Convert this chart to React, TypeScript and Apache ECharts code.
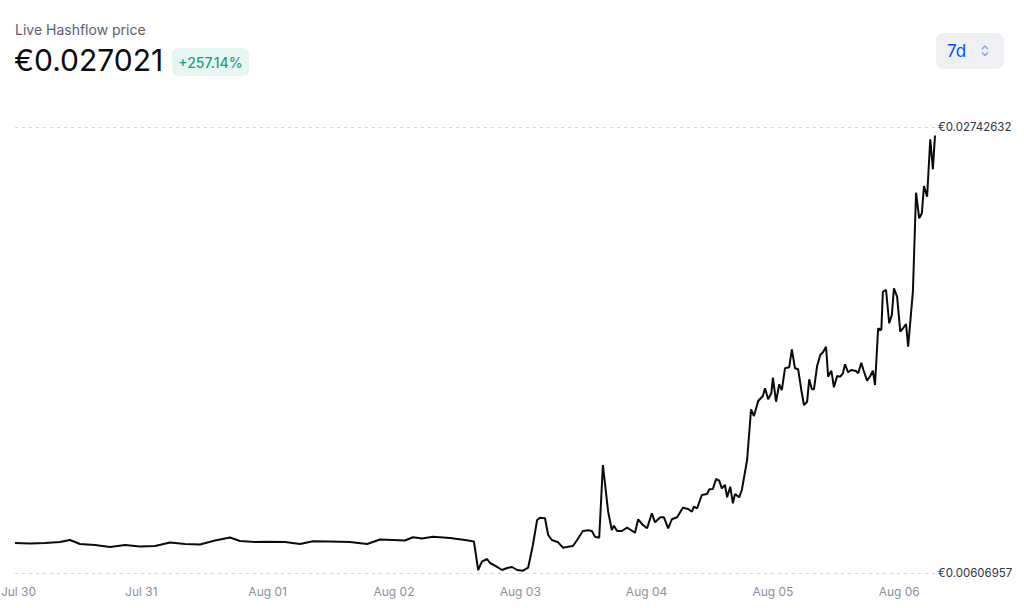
import React, { useEffect, useRef } from "react";
import * as echarts from "echarts";

// hours since Jul 30 00:00
const hours = [
  0, 2.85, 5.7, 8.55, 10.45, 12.35, 15.2, 18.05, 20.9, 23.75,
  26.6, 29.45, 32.3, 35.15, 38.0, 40.85, 42.75, 45.6, 47.9, 51.3,
  54.15, 56.6, 59.85, 63.65, 66.9, 69.35, 71.8, 74.1, 75.6, 77.35,
  79.4, 82.65, 85.5, 87.2, 88.0, 88.7, 89.7, 90.25, 91.2, 92.55,
  93.5, 94.45, 95.4, 96.5, 97.5, 98.4, 99.2, 99.75, 100.7, 101.3,
  102.0, 103.2, 104.1, 105.1, 106.0, 106.8, 107.9, 108.9, 109.6, 110.2,
  111.0, 111.7, 112.7, 113.4, 113.8, 114.4, 115.3, 116.3, 116.85, 117.8,
  118.4, 119.3, 120.1, 121.0, 121.6, 122.6, 123.3, 124.1, 124.8, 125.8,
  126.9, 127.9, 128.6, 129.0, 129.6, 130.5, 131.5, 131.9, 132.6, 133.2,
  133.8, 134.3, 134.9, 135.3, 135.9, 136.4, 136.8, 137.6, 138.1, 139.1,
  139.85, 140.4, 141.2, 142.1, 142.5, 143.1, 143.7, 144.0, 144.6, 145.2,
  145.7, 146.3, 147.1, 147.6, 148.2, 148.8, 149.4, 149.9, 150.5, 150.9,
  151.4, 151.8, 152.4, 153.0, 153.5, 154.1, 154.5, 155.1, 155.6, 156.2,
  156.8, 157.3, 157.7, 158.3, 158.9, 159.8, 160.2, 160.8, 161.2, 161.9,
  162.5, 163.0, 163.4, 164.0, 164.6, 164.9, 165.5, 166.1, 166.6, 167.0,
  167.6, 168.2, 168.7, 169.3, 169.7, 170.6, 171.2, 171.8, 172.3, 172.7,
  173.3, 173.9, 174.4, 174.8,
];

// EUR price
const prices = [
  0.0075061, 0.0074822, 0.0075061, 0.007554, 0.0076498, 0.0074583, 0.0074104, 0.0073146, 0.0074104, 0.0073385,
  0.0073625, 0.0075301, 0.0074583, 0.0074343, 0.0076259, 0.0077695, 0.0076019, 0.007554, 0.0075684, 0.007554,
  0.0074583, 0.0075876, 0.007578, 0.007554, 0.0074583, 0.0076737, 0.0076498, 0.0076259, 0.0077791, 0.0077216,
  0.0078078, 0.0077456, 0.0076498, 0.007578, 0.0062133, 0.0066107, 0.00674, 0.0065485, 0.0064192, 0.0062133,
  0.006309, 0.0063569, 0.0062133, 0.0061797, 0.0063234, 0.0074104, 0.0086075, 0.0087176, 0.0086889, 0.0078892,
  0.0076498, 0.0075397, 0.0072811, 0.007329, 0.0073625, 0.0076498, 0.0080808, 0.0081143, 0.0080808, 0.0078078,
  0.0077599, 0.0112412, 0.009005, 0.0081287, 0.0083346, 0.0080808, 0.0080808, 0.0082388, 0.0081526, 0.0079994,
  0.008641, 0.0083681, 0.0082101, 0.0089283, 0.0084974, 0.0087368, 0.0087368, 0.0082101, 0.008641, 0.0087368,
  0.0091965, 0.0091342, 0.009005, 0.0092444, 0.0091678, 0.0098046, 0.0098525, 0.0100776, 0.0100919, 0.0105708,
  0.0104894, 0.0101255, 0.0102835, 0.0096945, 0.0102021, 0.0094072, 0.0098525, 0.0096945, 0.0100441, 0.0114806,
  0.0139084, 0.0135875, 0.0143058, 0.0145452, 0.014914, 0.0143872, 0.0146745, 0.0154216, 0.0142723, 0.0151055,
  0.0148326, 0.0158717, 0.0159195, 0.0167815, 0.0158717, 0.0158238, 0.0148326, 0.0141143, 0.0142723, 0.0153449,
  0.0148661, 0.0148661, 0.0159818, 0.0165085, 0.0166376, 0.016906, 0.0154694, 0.0157567, 0.0149619, 0.0155029,
  0.0154694, 0.0156322, 0.0160632, 0.0156801, 0.0157903, 0.0157424, 0.0156322, 0.0161398, 0.0157903, 0.0152779,
  0.0155029, 0.0157567, 0.015072, 0.0177871, 0.0177057, 0.0195397, 0.0196211, 0.0180265, 0.0184239, 0.0197025,
  0.0193002, 0.0176243, 0.0177871, 0.017993, 0.016906, 0.0195397, 0.0242803, 0.0230544, 0.0232938, 0.0246011,
  0.0240887, 0.0268373, 0.0254008, 0.027021,
];

const dayLabels = ["Jul 30", "Jul 31", "Aug 01", "Aug 02", "Aug 03", "Aug 04", "Aug 05", "Aug 06"];
const yMin = 0.00606957;
const yMax = 0.02742632;
const yTickLabels = ["€0.00606957", "€0.02742632"];

const title = "Live Hashflow price";
const currentPrice = "€0.027021";
const changeText = "+257.14%";
const rangeText = "7d";

const FONT = "Inter, 'Noto Sans', sans-serif";

export default function App() {
  const ref = useRef<HTMLDivElement>(null);

  useEffect(() => {
    if (!ref.current) return;
    const chart = echarts.init(ref.current, undefined, { renderer: "svg" });
    const data = hours.map((h, i) => [h, prices[i]]);

    chart.setOption({
      animation: false,
      backgroundColor: "#ffffff",
      textStyle: { fontFamily: FONT },
      grid: {
        left: 15,
        right: 89,
        top: 127,
        bottom: 35,
        containLabel: false,
        outerBoundsMode: "none",
      },
      xAxis: {
        type: "value",
        min: 0,
        max: "dataMax",
        interval: 24,
        axisLine: { show: false },
        axisTick: { show: false },
        splitLine: { show: false },
        axisLabel: {
          showMaxLabel: false,
          color: "#8a919e",
          fontSize: 12,
          fontFamily: FONT,
          margin: 12,
          rich: {
            first: { color: "#8a919e", fontSize: 12, fontFamily: FONT, padding: [0, 0, 0, 7] },
          },
          formatter: (v: number) => {
            const d = Math.round(v / 24);
            if (Math.abs(v - d * 24) >= 0.01) return "";
            const lbl = dayLabels[d] ?? "";
            return d === 0 ? `{first|${lbl}}` : lbl;
          },
        },
      },
      yAxis: {
        type: "value",
        position: "right",
        min: yMin,
        max: yMax,
        interval: yMax - yMin,
        axisLine: { show: false },
        axisTick: { show: false },
        axisLabel: {
          margin: 3,
          color: "#32353d",
          fontSize: 11.5,
          fontFamily: FONT,
          formatter: (v: number) =>
            Math.abs(v - yMin) < Math.abs(v - yMax) ? yTickLabels[0] : yTickLabels[1],
        },
        splitLine: { show: true, lineStyle: { color: "#d5d9df", type: [3, 4], width: 1 } },
      },
      graphic: [
        {
          type: "text",
          left: 15,
          top: 22,
          style: { text: title, fontSize: 14, fill: "#5b616e", fontFamily: FONT },
        },
        {
          type: "text",
          left: 14,
          top: 45,
          style: { text: currentPrice, fontSize: 30, fill: "#0a0b0d", fontFamily: FONT },
        },
        {
          type: "rect",
          shape: { x: 172, y: 48, width: 77, height: 28, r: 6 },
          style: { fill: "#e6f6f2" },
        },
        {
          type: "text",
          x: 210.5,
          y: 62,
          style: {
            text: changeText,
            fontSize: 14,
            fontWeight: 500,
            fill: "#1f9e7f",
            fontFamily: FONT,
            align: "center",
            verticalAlign: "middle",
          },
        },
        {
          type: "rect",
          shape: { x: 936, y: 33, width: 68, height: 36, r: 8 },
          style: { fill: "#eef0f3" },
        },
        {
          type: "text",
          x: 947,
          y: 51,
          style: {
            text: rangeText,
            fontSize: 17,
            fill: "#0052ff",
            fontFamily: FONT,
            verticalAlign: "middle",
          },
        },
        {
          type: "polyline",
          shape: { points: [[982, 49], [985, 46], [988, 49]] },
          style: { stroke: "#7b95f7", lineWidth: 1.2, fill: "none" },
        },
        {
          type: "polyline",
          shape: { points: [[982, 52.5], [985, 55.5], [988, 52.5]] },
          style: { stroke: "#7b95f7", lineWidth: 1.2, fill: "none" },
        },
      ],
      series: [
        {
          type: "line",
          data,
          showSymbol: false,
          symbol: "none",
          lineStyle: { color: "#0a0b0d", width: 2 },
          z: 3,
        },
      ],
    });

    return () => chart.dispose();
  }, []);

  return (
    <div
      ref={ref}
      style={{ position: "fixed", left: 0, top: 0, width: 1024, height: 608, background: "#fff" }}
    />
  );
}
